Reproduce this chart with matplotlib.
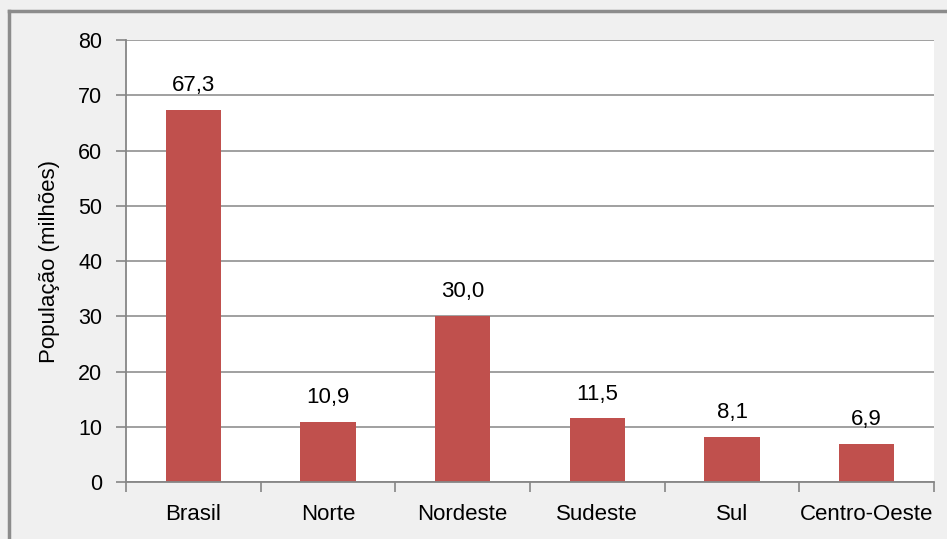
import matplotlib.pyplot as plt
from matplotlib.lines import Line2D
import numpy as np

regioes = ["Brasil", "Norte", "Nordeste", "Sudeste", "Sul", "Centro-Oeste"]
populacao = [67.3, 10.9, 30.0, 11.5, 8.1, 6.9]
yticks = [0, 10, 20, 30, 40, 50, 60, 70, 80]

plt.rcParams['font.family'] = ['Liberation Sans', 'DejaVu Sans']
cinza = "#868686"

fig = plt.figure(figsize=(9.47, 5.39), dpi=100, facecolor="#f0f0f0")
ax = fig.add_axes([126/947, 1-482/539, 808/947, 442/539])
ax.set_facecolor("white")

x = np.arange(len(regioes))
ax.bar(x, populacao, width=0.41, color="#C0504D", zorder=3)

for xi, v in zip(x, populacao):
    ax.annotate(f"{v:.1f}".replace(".", ","), (xi, v), xytext=(0, 10),
                textcoords="offset points", ha="center", va="bottom", fontsize=16)

ax.set_xlim(-0.5, len(regioes) - 0.5)
ax.set_ylim(0, 80)
ax.set_yticks(yticks)
ax.set_yticklabels([str(t) for t in yticks], fontsize=15.5)
ax.set_xticks(x)
ax.set_xticklabels(regioes, fontsize=16)
ax.set_xticks(np.arange(-0.5, len(regioes)), minor=True)
ax.tick_params(axis="x", which="major", length=0, pad=16)
ax.tick_params(axis="x", which="minor", length=7, width=1.2, color=cinza)
ax.tick_params(axis="y", length=7, width=1.2, color=cinza, pad=10)
ax.yaxis.grid(True, color=cinza, linewidth=1.1, zorder=0)

for s in ["top", "right"]:
    ax.spines[s].set_visible(False)
for s in ["left", "bottom"]:
    ax.spines[s].set_color(cinza)
    ax.spines[s].set_linewidth(1.3)
ax.spines["bottom"].set_zorder(4)

ax.set_ylabel("População (milhões)", fontsize=16)
ax.yaxis.set_label_coords(-0.082, 0.5)

# moldura cinza
fig.add_artist(Line2D([9/947, 9/947], [0, 1-11/539], transform=fig.transFigure,
                      color="#8c8c8c", linewidth=2.5))
fig.add_artist(Line2D([9/947, 1], [1-11/539, 1-11/539], transform=fig.transFigure,
                      color="#8c8c8c", linewidth=2.5))

fig.savefig("out.png", dpi=100, facecolor=fig.get_facecolor())
